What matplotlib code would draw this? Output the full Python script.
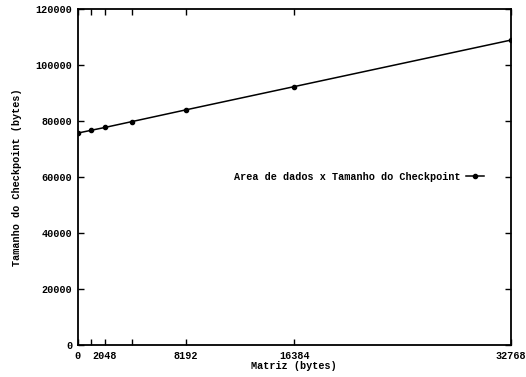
import matplotlib.pyplot as plt

# tamanho da matriz (bytes) x tamanho do checkpoint (bytes)
matriz = [0, 1024, 2048, 4096, 8192, 16384, 32768]
checkpoint = [75700, 76700, 77700, 79800, 84000, 92300, 108900]

xtick_pos = [0, 1024, 2048, 4096, 8192, 16384, 32768]
xtick_lab = ['0', '', '2048', '', '8192', '16384', '32768']
ytick_pos = [0, 20000, 40000, 60000, 80000, 100000, 120000]

plt.rcParams['font.family'] = ['Liberation Mono', 'DejaVu Sans Mono']
plt.rcParams['font.weight'] = 'bold'

fig = plt.figure(figsize=(5.26, 3.77), dpi=100)
ax = fig.add_axes([0.148, 0.085, 0.823, 0.891])

ax.plot(matriz, checkpoint, color='black', linewidth=1.1, marker='o',
        markersize=3, label='Area de dados x Tamanho do Checkpoint')

ax.set_xlim(0, 32768)
ax.set_ylim(0, 120000)
ax.set_xticks(xtick_pos)
ax.set_xticklabels(xtick_lab)
ax.set_yticks(ytick_pos)
ax.tick_params(direction='in', top=True, right=True, length=4, width=1,
               labelsize=7.3, pad=4)
for s in ax.spines.values():
    s.set_linewidth(1.3)

ax.set_xlabel('Matriz (bytes)', fontsize=7.3, fontweight='bold', labelpad=0)
ax.set_ylabel('Tamanho do Checkpoint (bytes)', fontsize=7.3, fontweight='bold', labelpad=10)

ax.legend(loc='center right', bbox_to_anchor=(0.96, 0.5), frameon=False,
          markerfirst=False, handlelength=1.8, handletextpad=0.5, fontsize=7.3)

fig.savefig('out.png', dpi=100)
